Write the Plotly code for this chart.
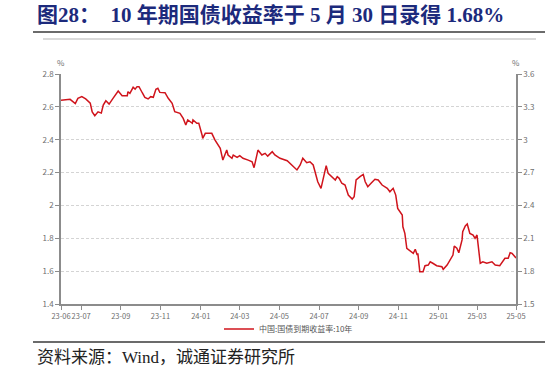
import plotly.graph_objects as go

# ---- data ----
dates = [
    "2023-06-30", "2023-07-06", "2023-07-14", "2023-07-22", "2023-07-26", "2023-08-01", "2023-08-07",
    "2023-08-14", "2023-08-17", "2023-08-21", "2023-08-26", "2023-08-31", "2023-09-03", "2023-09-07",
    "2023-09-12", "2023-09-18", "2023-09-24", "2023-09-26", "2023-10-02", "2023-10-10", "2023-10-11",
    "2023-10-14", "2023-10-19", "2023-10-22", "2023-10-25", "2023-10-28", "2023-11-02", "2023-11-06",
    "2023-11-11", "2023-11-15", "2023-11-19", "2023-11-23", "2023-11-26", "2023-11-29", "2023-12-07",
    "2023-12-12", "2023-12-18", "2023-12-22", "2023-12-30", "2024-01-04", "2024-01-08", "2024-01-11",
    "2024-01-18", "2024-01-19", "2024-01-25", "2024-01-28", "2024-02-02", "2024-02-03", "2024-02-07",
    "2024-02-17", "2024-02-22", "2024-02-27", "2024-03-01", "2024-03-05", "2024-03-07", "2024-03-11",
    "2024-03-13", "2024-03-19", "2024-03-21", "2024-03-27", "2024-03-31", "2024-04-05", "2024-04-13",
    "2024-04-19", "2024-04-22", "2024-04-27", "2024-04-28", "2024-05-04", "2024-05-09", "2024-05-13",
    "2024-05-20", "2024-05-24", "2024-06-01", "2024-06-12", "2024-06-19", "2024-06-27", "2024-07-02",
    "2024-07-06", "2024-07-12", "2024-07-17", "2024-07-22", "2024-07-26", "2024-07-29", "2024-08-03",
    "2024-08-06", "2024-08-09", "2024-08-11", "2024-08-14", "2024-08-20", "2024-08-25", "2024-08-28",
    "2024-08-31", "2024-09-04", "2024-09-09", "2024-09-14", "2024-09-20", "2024-09-23", "2024-09-26",
    "2024-10-02", "2024-10-07", "2024-10-10", "2024-10-14", "2024-10-19", "2024-10-25", "2024-10-30",
    "2024-11-05", "2024-11-13", "2024-11-17", "2024-11-22", "2024-11-26", "2024-11-29", "2024-12-06",
    "2024-12-07", "2024-12-10", "2024-12-13", "2024-12-18", "2024-12-23", "2024-12-26", "2024-12-29",
    "2024-12-30", "2025-01-02", "2025-01-07", "2025-01-10", "2025-01-15", "2025-01-18", "2025-01-22",
    "2025-01-28", "2025-02-05", "2025-02-07", "2025-02-13", "2025-02-17", "2025-02-22", "2025-02-24",
    "2025-02-28", "2025-03-03", "2025-03-08", "2025-03-09", "2025-03-13", "2025-03-16", "2025-03-20",
    "2025-03-25", "2025-03-28", "2025-03-31", "2025-04-02", "2025-04-05", "2025-04-09", "2025-04-15",
    "2025-04-23", "2025-04-28", "2025-05-05", "2025-05-13", "2025-05-18", "2025-05-21", "2025-05-24",
    "2025-05-30",
]
yield_10y = [
    2.640, 2.642, 2.646, 2.620, 2.652, 2.662, 2.648,
    2.623, 2.569, 2.546, 2.570, 2.562, 2.611, 2.637,
    2.617, 2.652, 2.682, 2.696, 2.668, 2.668, 2.692,
    2.682, 2.719, 2.708, 2.723, 2.723, 2.686, 2.658,
    2.648, 2.662, 2.658, 2.707, 2.713, 2.688, 2.686,
    2.652, 2.622, 2.571, 2.561, 2.530, 2.489, 2.520,
    2.500, 2.520, 2.500, 2.500, 2.429, 2.408, 2.439,
    2.439, 2.398, 2.368, 2.348, 2.276, 2.296, 2.337,
    2.307, 2.287, 2.307, 2.293, 2.303, 2.287, 2.276,
    2.266, 2.230, 2.307, 2.337, 2.307, 2.317, 2.300,
    2.327, 2.307, 2.287, 2.272, 2.246, 2.216, 2.246,
    2.287, 2.260, 2.266, 2.246, 2.185, 2.144, 2.104,
    2.155, 2.216, 2.242, 2.195, 2.175, 2.155, 2.175,
    2.165, 2.135, 2.124, 2.063, 2.039, 2.053, 2.155,
    2.175, 2.189, 2.144, 2.114, 2.135, 2.159, 2.155,
    2.124, 2.104, 2.083, 2.104, 2.063, 1.982, 1.942,
    1.870, 1.830, 1.739, 1.724, 1.708, 1.733, 1.698,
    1.708, 1.597, 1.597, 1.633, 1.637, 1.657, 1.648,
    1.633, 1.627, 1.611, 1.637, 1.668, 1.698, 1.753,
    1.739, 1.712, 1.790, 1.840, 1.875, 1.887, 1.830,
    1.820, 1.800, 1.820, 1.749, 1.648, 1.657, 1.648,
    1.657, 1.637, 1.633, 1.678, 1.678, 1.712, 1.708,
    1.680,
]
series_name = "中国:国债到期收益率:10年"

x_tick_dates = ["2023-06-30", "2023-07-31", "2023-09-30", "2023-11-30", "2024-01-31", "2024-03-31",
                "2024-05-31", "2024-07-31", "2024-09-30", "2024-11-30", "2025-01-31", "2025-03-31",
                "2025-05-30"]
x_tick_labels = ["23-06", "23-07", "23-09", "23-11", "24-01", "24-03", "24-05", "24-07", "24-09",
                 "24-11", "25-01", "25-03", "25-05"]
left_ticks = [1.4, 1.6, 1.8, 2.0, 2.2, 2.4, 2.6, 2.8]
left_labels = ["1.4", "1.6", "1.8", "2", "2.2", "2.4", "2.6", "2.8"]
right_ticks = [1.5, 1.8, 2.1, 2.4, 2.7, 3.0, 3.3, 3.6]
right_labels = ["1.5", "1.8", "2.1", "2.4", "2.7", "3", "3.3", "3.6"]

title_text = "图28：  10 年期国债收益率于 5 月 30 日录得 1.68%"
source_text = "资料来源：Wind，诚通证券研究所"

# ---- styles ----
W, H = 547, 374
L, R, T, B = 61, 31, 74, 70
AX = "#8c8c8c"
TXT = "#6e6e6e"
CHART_FONT = "Noto Sans CJK SC, Noto Sans, sans-serif"
SERIF = "Liberation Serif, Times New Roman, Noto Sans CJK SC, serif"

pw, ph = W - L - R, H - T - B


def px(xp):
    return (xp - L) / pw


def py(yp):
    return (H - B - yp) / ph


fig = go.Figure()
fig.add_trace(go.Scatter(
    x=dates, y=yield_10y, mode="lines", name=series_name,
    line=dict(color="#d0141c", width=1.5),
))
fig.add_trace(go.Scatter(x=[], y=[], yaxis="y2", showlegend=False, hoverinfo="skip"))

fig.update_layout(
    width=W, height=H,
    margin=dict(l=L, r=R, t=T, b=B, autoexpand=False),
    paper_bgcolor="white", plot_bgcolor="white",
    font=dict(family=CHART_FONT, size=8, color=TXT),
    title=dict(
        text=title_text, xref="container", yref="container",
        x=37 / W, y=1 - 15 / H, xanchor="left", yanchor="middle",
        font=dict(family=SERIF, size=21, color="#1c2a7c", weight="bold"),
    ),
    xaxis=dict(
        type="date", range=[x_tick_dates[0], x_tick_dates[-1]],
        tickvals=x_tick_dates, ticktext=x_tick_labels, tickangle=0,
        showgrid=False, showline=True, linecolor=AX, linewidth=1.5,
        ticks="outside", ticklen=4, tickcolor=AX, tickwidth=1,
        tickfont=dict(size=7.5, color=TXT), zeroline=False,
    ),
    yaxis=dict(
        range=[1.4, 2.8], tickvals=left_ticks, ticktext=left_labels,
        showgrid=True, gridcolor="#d4d4d4", griddash="3px,2px", gridwidth=1,
        showline=True, linecolor=AX, linewidth=1.5,
        ticks="outside", ticklen=4, tickcolor=AX, tickwidth=1,
        tickfont=dict(size=8, color=TXT), zeroline=False,
    ),
    yaxis2=dict(
        range=[1.5, 3.6], tickvals=right_ticks, ticktext=right_labels,
        overlaying="y", side="right", anchor="x",
        showgrid=False, showline=True, linecolor=AX, linewidth=1.5,
        ticks="outside", ticklen=4, tickcolor=AX, tickwidth=1,
        tickfont=dict(size=8, color=TXT), zeroline=False,
    ),
    showlegend=True,
    legend=dict(
        orientation="h", x=0.5, xanchor="center", y=py(329), yanchor="middle",
        font=dict(size=8, color="#555555"), bgcolor="rgba(0,0,0,0)",
    ),
    shapes=[
        dict(type="line", xref="paper", yref="paper", x0=px(33), x1=px(545), y0=py(32), y1=py(32),
             line=dict(color="#6b6b6b", width=2)),
        dict(type="line", xref="paper", yref="paper", x0=px(43), x1=px(536), y0=py(39), y1=py(39),
             line=dict(color="#b5b5b5", width=1)),
        dict(type="line", xref="paper", yref="paper", x0=px(33), x1=px(545), y0=py(342), y1=py(342),
             line=dict(color="#6b6b6b", width=2)),
    ],
    annotations=[
        dict(text="%", xref="paper", yref="paper", x=px(61), y=py(62), showarrow=False,
             xanchor="center", yanchor="middle", font=dict(size=8, color=TXT)),
        dict(text="%", xref="paper", yref="paper", x=px(516), y=py(62), showarrow=False,
             xanchor="center", yanchor="middle", font=dict(size=8, color=TXT)),
        dict(text=source_text, xref="paper", yref="paper", x=px(35), y=py(357), showarrow=False,
             xanchor="left", yanchor="middle", font=dict(family=SERIF, size=17, color="#222222")),
    ],
)

fig.write_html("out.html", config={"displayModeBar": False},
               post_script="document.body.style.margin='0';")
